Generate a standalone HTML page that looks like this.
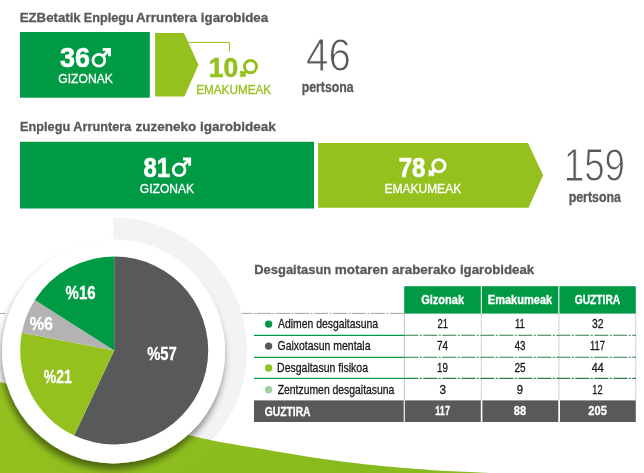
<!DOCTYPE html><html><head><meta charset="utf-8"><title>Igarobideak</title><style>html,body{margin:0;padding:0;background:#fff}body{width:644px;height:473px;overflow:hidden}svg{display:block;font-family:"Liberation Sans",sans-serif}.thin{stroke:#fff;stroke-width:1px}.fat{stroke:#fff;stroke-width:.6px}.fatg{stroke:#95c11f;stroke-width:.6px}</style></head><body>
<svg width="644" height="473" viewBox="0 0 644 473">
<defs><filter id="sh" x="-20%" y="-20%" width="140%" height="140%"><feGaussianBlur in="SourceAlpha" stdDeviation="3.8"/><feOffset dx="-1.5" dy="6"/><feComponentTransfer><feFuncA type="linear" slope="0.47"/></feComponentTransfer><feMerge><feMergeNode/><feMergeNode in="SourceGraphic"/></feMerge></filter><linearGradient id="sw" x1="0" y1="0" x2="1" y2="0.3"><stop offset="0" stop-color="#95c11f"/><stop offset="1" stop-color="#86ba1d"/></linearGradient></defs>
<rect width="644" height="473" fill="#fff"/>
<text y="21.7" font-size="13.3" font-weight="700" fill="#58595b" stroke="#58595b" stroke-width="0.3"><tspan x="19.73" textLength="60.96" lengthAdjust="spacingAndGlyphs">EZBetatik</tspan> <tspan x="83.77" textLength="49.84" lengthAdjust="spacingAndGlyphs">Enplegu</tspan> <tspan x="135.92" textLength="61.05" lengthAdjust="spacingAndGlyphs">Arruntera</tspan> <tspan x="200.82" textLength="67.35" lengthAdjust="spacingAndGlyphs">igarobidea</tspan></text>
<rect x="20" y="32" width="129.8" height="65.7" fill="#009a44"/>
<path d="M155.1,33H184L198.4,64.8L184.5,96.5H155.1Z" fill="#95c11f"/>
<path d="M188.2,42.4H229.4V51.5" fill="none" stroke="#95c11f" stroke-width="1"/>
<text x="59.99" y="67.4" font-size="27.8" font-weight="700" fill="#fff" text-anchor="start" textLength="30.02" lengthAdjust="spacingAndGlyphs" class="fat">36</text>
<g fill="none" stroke="#fff" stroke-width="2.8"><circle cx="98.9" cy="60.3" r="5.9"/><path d="M103.1,56.1L109.6,49.5M102.8,49.5H110.9M109.5,48.1V56.3"/></g>
<text x="58.33" y="82.5" font-size="13.3" font-weight="400" fill="#fff" text-anchor="start" textLength="54.47" lengthAdjust="spacingAndGlyphs" stroke="#fff" stroke-width="0.3">GIZONAK</text>
<text x="208.83" y="77.3" font-size="27.8" font-weight="700" fill="#95c11f" text-anchor="start" textLength="29.49" lengthAdjust="spacingAndGlyphs" class="fatg">10</text>
<g fill="none" stroke="#95c11f" stroke-width="2.9"><circle cx="250.5" cy="66.6" r="6.1"/><path d="M246.3,70.8L240.5,76.6M240.4,71.4L245.4,76.4"/></g>
<text x="196.18" y="93.6" font-size="13" font-weight="400" fill="#95c11f" text-anchor="start" textLength="75.0" lengthAdjust="spacingAndGlyphs" stroke="#95c11f" stroke-width="0.3">EMAKUMEAK</text>
<text x="306.12" y="71.4" font-size="45.8" font-weight="400" fill="#58595b" text-anchor="start" textLength="44.81" lengthAdjust="spacingAndGlyphs" class="thin">46</text>
<text x="301.63" y="91.9" font-size="14" font-weight="700" fill="#58595b" text-anchor="start" textLength="52.06" lengthAdjust="spacingAndGlyphs" stroke="#58595b" stroke-width="0.3">pertsona</text>
<text y="130.8" font-size="13.3" font-weight="700" fill="#58595b" stroke="#58595b" stroke-width="0.3"><tspan x="20.06" textLength="50.15" lengthAdjust="spacingAndGlyphs">Enplegu</tspan> <tspan x="73.34" textLength="57.93" lengthAdjust="spacingAndGlyphs">Arruntera</tspan> <tspan x="135.49" textLength="60.8" lengthAdjust="spacingAndGlyphs">zuzeneko</tspan> <tspan x="199.91" textLength="75.91" lengthAdjust="spacingAndGlyphs">igarobideak</tspan></text>
<rect x="20" y="141.8" width="294" height="66.7" fill="#009a44"/>
<path d="M318.1,142.9H528L543.1,175.2L528.6,207.7H318.1Z" fill="#95c11f"/>
<text x="143.55" y="176.9" font-size="27.8" font-weight="700" fill="#fff" text-anchor="start" textLength="26.64" lengthAdjust="spacingAndGlyphs" class="fat">81</text>
<g fill="none" stroke="#fff" stroke-width="2.8"><circle cx="179.1" cy="169.8" r="5.9"/><path d="M183.3,165.6L189.8,159.0M183.0,159.0H191.1M189.7,157.6V165.8"/></g>
<text x="139.83" y="192.5" font-size="13.3" font-weight="400" fill="#fff" text-anchor="start" textLength="54.16" lengthAdjust="spacingAndGlyphs" stroke="#fff" stroke-width="0.3">GIZONAK</text>
<text x="398.72" y="176.8" font-size="27.8" font-weight="700" fill="#fff" text-anchor="start" textLength="26.77" lengthAdjust="spacingAndGlyphs" class="fat">78</text>
<g fill="none" stroke="#fff" stroke-width="2.9"><circle cx="438.9" cy="165.7" r="6.1"/><path d="M434.7,169.9L428.9,175.7M428.8,170.5L433.8,175.5"/></g>
<text x="384.48" y="192.6" font-size="13.2" font-weight="400" fill="#fff" text-anchor="start" textLength="76.67" lengthAdjust="spacingAndGlyphs" stroke="#fff" stroke-width="0.3">EMAKUMEAK</text>
<text x="563.69" y="181.4" font-size="45.8" font-weight="400" fill="#58595b" text-anchor="start" textLength="61.35" lengthAdjust="spacingAndGlyphs" class="thin">159</text>
<text x="568.63" y="202" font-size="14" font-weight="700" fill="#58595b" text-anchor="start" textLength="52.26" lengthAdjust="spacingAndGlyphs" stroke="#58595b" stroke-width="0.3">pertsona</text>
<path d="M0,313.4H5.5M219,313.4H404" stroke="#9a9a9a" stroke-width="0.9" stroke-dasharray="14 1.5 2 1.5" fill="none"/>
<path d="M113.20,228.40A122,122 0 1 1 72.47,465.04" fill="none" stroke="#f3f3f3" stroke-width="21.6"/>
<path d="M0,382C16.7,386.7 38.3,393.5 60,400C81.7,406.5 108.1,415.0 130,421C151.9,427.0 176.6,432.4 191.2,435.8C205.8,439.2 206.8,439.4 217.3,441.4C227.9,443.4 242.1,445.6 254.5,447.7C266.9,449.8 279.7,451.9 291.8,453.9C303.9,455.9 315.2,457.8 327.3,459.5C339.4,461.2 350.9,462.7 364.5,464.2C378.1,465.7 396.3,467.2 409.2,468.3C422.1,469.4 429.6,470.0 442,470.7C454.4,471.4 474.1,472.3 483.8,472.7C493.5,473.1 494.0,473.0 500,473.2V474H0Z" fill="url(#sw)"/>
<circle cx="113.5" cy="352" r="111.5" fill="#fff" filter="url(#sh)"/>
<path d="M114.2,350.4L114.20,256.40A94,94 0 1 1 74.18,435.45Z" fill="#58595b"/>
<path d="M114.2,350.4L74.18,435.45A94,94 0 0 1 21.86,332.79Z" fill="#95c11f"/>
<path d="M114.2,350.4L21.86,332.79A94,94 0 0 1 34.83,300.03Z" fill="#b4b2b3"/>
<path d="M114.2,350.4L34.83,300.03A94,94 0 0 1 114.20,256.40Z" fill="#009a44"/>
<text x="65.57" y="298.7" font-size="17.5" font-weight="700" fill="#fff" text-anchor="start" textLength="30.09" lengthAdjust="spacingAndGlyphs" stroke="#fff" stroke-width="0.3">%16</text>
<text x="29.74" y="330.4" font-size="17.5" font-weight="700" fill="#fff" text-anchor="start" textLength="23.38" lengthAdjust="spacingAndGlyphs" stroke="#fff" stroke-width="0.3">%6</text>
<text x="147.18" y="360" font-size="17.5" font-weight="700" fill="#fff" text-anchor="start" textLength="29.58" lengthAdjust="spacingAndGlyphs" stroke="#fff" stroke-width="0.3">%57</text>
<text x="43.8" y="383.2" font-size="17.5" font-weight="700" fill="#fff" text-anchor="start" textLength="27.82" lengthAdjust="spacingAndGlyphs" stroke="#fff" stroke-width="0.3">%21</text>
<text y="274.4" font-size="13.3" font-weight="700" fill="#58595b" stroke="#58595b" stroke-width="0.3"><tspan x="254.25" textLength="76.96" lengthAdjust="spacingAndGlyphs">Desgaitasun</tspan> <tspan x="334.81" textLength="53.45" lengthAdjust="spacingAndGlyphs">motaren</tspan> <tspan x="392.12" textLength="63.76" lengthAdjust="spacingAndGlyphs">araberako</tspan> <tspan x="459.93" textLength="74.29" lengthAdjust="spacingAndGlyphs">igarobideak</tspan></text>
<rect x="404.2" y="286.2" width="76.6" height="27.4" fill="#009a44"/>
<text x="421.14" y="304.3" font-size="12" font-weight="700" fill="#fff" text-anchor="start" textLength="42.92" lengthAdjust="spacingAndGlyphs" stroke="#fff" stroke-width="0.3">Gizonak</text>
<rect x="481.8" y="286.2" width="76.5" height="27.4" fill="#009a44"/>
<text x="487.81" y="304.3" font-size="12" font-weight="700" fill="#fff" text-anchor="start" textLength="64.43" lengthAdjust="spacingAndGlyphs" stroke="#fff" stroke-width="0.3">Emakumeak</text>
<rect x="559.4" y="286.2" width="76.4" height="27.4" fill="#009a44"/>
<text x="574.67" y="304.3" font-size="12" font-weight="700" fill="#fff" text-anchor="start" textLength="45.61" lengthAdjust="spacingAndGlyphs" stroke="#fff" stroke-width="0.3">GUZTIRA</text>
<path d="M404.3,313.6V400.5" stroke="#b9b9b9" stroke-width="0.9"/>
<path d="M481.4,313.6V400.5" stroke="#b0b0b0" stroke-width="0.9" stroke-dasharray="2 1"/>
<path d="M558.9,313.6V400.5" stroke="#b0b0b0" stroke-width="0.9" stroke-dasharray="2 1"/>
<path d="M635.8,313.6V400.5" stroke="#b0b0b0" stroke-width="0.9" stroke-dasharray="2 1"/>
<path d="M254,335.3H404.3" stroke="#009a44" stroke-width="1.2"/>
<path d="M404.3,335.3H636" stroke="#2b7f48" stroke-width="1.1" stroke-dasharray="14 1.5 2 1.5"/>
<path d="M254,357.3H404.3" stroke="#009a44" stroke-width="1.2"/>
<path d="M404.3,357.3H636" stroke="#2b7f48" stroke-width="1.1" stroke-dasharray="14 1.5 2 1.5"/>
<path d="M254,378.4H404.3" stroke="#009a44" stroke-width="1.2"/>
<path d="M404.3,378.4H636" stroke="#2b7f48" stroke-width="1.1" stroke-dasharray="14 1.5 2 1.5"/>
<circle cx="268.6" cy="324.1" r="3.7" fill="#009a44"/>
<text x="278.0" y="328.2" font-size="13" font-weight="400" fill="#1a1718" text-anchor="start" textLength="100.03" lengthAdjust="spacingAndGlyphs" stroke="#1a1718" stroke-width="0.3">Adimen desgaitasuna</text>
<text x="437.43" y="328.2" font-size="12.5" font-weight="400" fill="#1a1718" text-anchor="start" textLength="10.46" lengthAdjust="spacingAndGlyphs" stroke="#1a1718" stroke-width="0.3">21</text>
<text x="514.94" y="328.2" font-size="12.5" font-weight="400" fill="#1a1718" text-anchor="start" textLength="9.82" lengthAdjust="spacingAndGlyphs" stroke="#1a1718" stroke-width="0.3">11</text>
<text x="591.88" y="328.2" font-size="12.5" font-weight="400" fill="#1a1718" text-anchor="start" textLength="11.56" lengthAdjust="spacingAndGlyphs" stroke="#1a1718" stroke-width="0.3">32</text>
<circle cx="268.6" cy="346.1" r="3.7" fill="#58595b"/>
<text x="277.5" y="350.2" font-size="13" font-weight="400" fill="#1a1718" text-anchor="start" textLength="93.0" lengthAdjust="spacingAndGlyphs" stroke="#1a1718" stroke-width="0.3">Gaixotasun mentala</text>
<text x="437.1" y="350.2" font-size="12.5" font-weight="400" fill="#1a1718" text-anchor="start" textLength="11.02" lengthAdjust="spacingAndGlyphs" stroke="#1a1718" stroke-width="0.3">74</text>
<text x="514.71" y="350.2" font-size="12.5" font-weight="400" fill="#1a1718" text-anchor="start" textLength="10.81" lengthAdjust="spacingAndGlyphs" stroke="#1a1718" stroke-width="0.3">43</text>
<text x="590.05" y="350.2" font-size="12.5" font-weight="400" fill="#1a1718" text-anchor="start" textLength="14.86" lengthAdjust="spacingAndGlyphs" stroke="#1a1718" stroke-width="0.3">117</text>
<circle cx="268.6" cy="368.0" r="3.7" fill="#95c11f"/>
<text x="277.09" y="372.1" font-size="13" font-weight="400" fill="#1a1718" text-anchor="start" textLength="90.89" lengthAdjust="spacingAndGlyphs" stroke="#1a1718" stroke-width="0.3">Desgaitasun fisikoa</text>
<text x="437.12" y="372.1" font-size="12.5" font-weight="400" fill="#1a1718" text-anchor="start" textLength="10.78" lengthAdjust="spacingAndGlyphs" stroke="#1a1718" stroke-width="0.3">19</text>
<text x="514.4" y="372.1" font-size="12.5" font-weight="400" fill="#1a1718" text-anchor="start" textLength="11.13" lengthAdjust="spacingAndGlyphs" stroke="#1a1718" stroke-width="0.3">25</text>
<text x="591.68" y="372.1" font-size="12.5" font-weight="400" fill="#1a1718" text-anchor="start" textLength="11.96" lengthAdjust="spacingAndGlyphs" stroke="#1a1718" stroke-width="0.3">44</text>
<circle cx="268.6" cy="389.7" r="3.7" fill="#9fcfa5"/>
<text x="277.7" y="393.8" font-size="13" font-weight="400" fill="#1a1718" text-anchor="start" textLength="116.69" lengthAdjust="spacingAndGlyphs" stroke="#1a1718" stroke-width="0.3">Zentzumen desgaitasuna</text>
<text x="439.43" y="393.8" font-size="12.5" font-weight="400" fill="#1a1718" text-anchor="start" textLength="6.51" lengthAdjust="spacingAndGlyphs" stroke="#1a1718" stroke-width="0.3">3</text>
<text x="516.83" y="393.8" font-size="12.5" font-weight="400" fill="#1a1718" text-anchor="start" textLength="6.29" lengthAdjust="spacingAndGlyphs" stroke="#1a1718" stroke-width="0.3">9</text>
<text x="592.37" y="393.8" font-size="12.5" font-weight="400" fill="#1a1718" text-anchor="start" textLength="10.22" lengthAdjust="spacingAndGlyphs" stroke="#1a1718" stroke-width="0.3">12</text>
<rect x="254" y="400.4" width="149.7" height="21.6" fill="#58595b"/>
<text x="264.77" y="415.9" font-size="12.1" font-weight="700" fill="#fff" text-anchor="start" textLength="45.74" lengthAdjust="spacingAndGlyphs" stroke="#fff" stroke-width="0.3">GUZTIRA</text>
<rect x="404.8" y="400.4" width="76.0" height="21.6" fill="#58595b"/>
<text x="435.35" y="414.9" font-size="12.3" font-weight="700" fill="#fff" text-anchor="start" textLength="14.59" lengthAdjust="spacingAndGlyphs" stroke="#fff" stroke-width="0.3">117</text>
<rect x="482.40000000000003" y="400.4" width="75.9" height="21.6" fill="#58595b"/>
<text x="513.86" y="414.9" font-size="12.3" font-weight="700" fill="#fff" text-anchor="start" textLength="12.33" lengthAdjust="spacingAndGlyphs" stroke="#fff" stroke-width="0.3">88</text>
<rect x="560.0" y="400.4" width="75.8" height="21.6" fill="#58595b"/>
<text x="588.36" y="414.9" font-size="12.3" font-weight="700" fill="#fff" text-anchor="start" textLength="18.5" lengthAdjust="spacingAndGlyphs" stroke="#fff" stroke-width="0.3">205</text>
</svg></body></html>
